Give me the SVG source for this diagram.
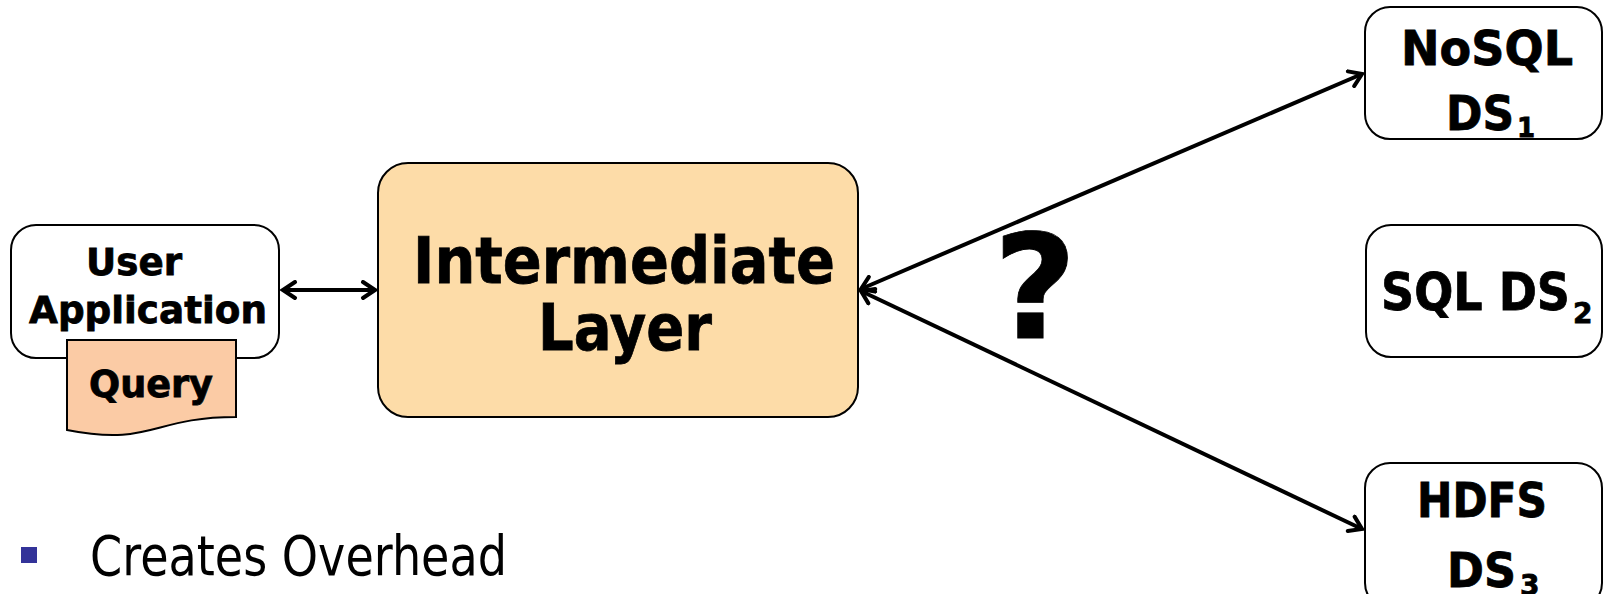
<svg xmlns="http://www.w3.org/2000/svg" width="1604" height="594" viewBox="0 0 1604 594">
  <style>
    .box { fill: #ffffff; stroke: #000000; stroke-width: 2; }
    .layer { fill: #FDDCA8; stroke: #000000; stroke-width: 2; }
    .doc { fill: #FBCBA5; stroke: #000000; stroke-width: 2; }
    .lbl { font-family: "DejaVu Sans", Verdana, sans-serif; font-weight: bold; fill: #000000; stroke: #000000; stroke-width: 0.8; }
    .link { fill: none; stroke: #000000; stroke-width: 4; }
    .plain { font-family: "DejaVu Sans", Tahoma, sans-serif; fill: #000000; }
  </style>
  <defs>
    <marker id="vhead" viewBox="0 0 20 20" refX="17" refY="10" markerWidth="20" markerHeight="20" markerUnits="userSpaceOnUse" orient="auto-start-reverse">
      <path d="M5,2 L17,10 L5,18" fill="none" stroke="#000000" stroke-width="4" stroke-linecap="round" stroke-linejoin="miter"/>
    </marker>
  </defs>

  <!-- connectors -->
  <g id="connectors">
    <line class="link" x1="283" y1="290" x2="375" y2="290" marker-start="url(#vhead)" marker-end="url(#vhead)"/>
    <line class="link" x1="861" y1="289" x2="1362" y2="74" marker-start="url(#vhead)" marker-end="url(#vhead)"/>
    <line class="link" x1="861" y1="291" x2="1362" y2="529" marker-start="url(#vhead)" marker-end="url(#vhead)"/>
  </g>

  <!-- client application with its query document -->
  <g id="user-app">
    <rect class="box" x="11" y="225" width="268" height="133" rx="25" ry="25"/>
    <text class="lbl" x="86" y="275" font-size="38" textLength="96" lengthAdjust="spacingAndGlyphs">User</text>
    <text class="lbl" x="29" y="323" font-size="38" textLength="238" lengthAdjust="spacingAndGlyphs">Application</text>
  </g>
  <g id="query">
    <path class="doc" d="M67,340 H236 V417 C151.5,417 151.5,446.8 67,430 Z"/>
    <text class="lbl" x="89" y="397" font-size="37" textLength="124" lengthAdjust="spacingAndGlyphs">Query</text>
  </g>

  <!-- middleware -->
  <g id="intermediate-layer">
    <rect class="layer" x="378" y="163" width="480" height="254" rx="30" ry="30"/>
    <text class="lbl" x="413" y="283" font-size="64" textLength="422" lengthAdjust="spacingAndGlyphs">Intermediate</text>
    <text class="lbl" x="538" y="350" font-size="64" textLength="174" lengthAdjust="spacingAndGlyphs">Layer</text>
  </g>

  <g id="question">
    <text class="lbl" x="1035" y="338" font-size="144" text-anchor="middle" stroke-width="6">?</text>
  </g>

  <!-- data stores -->
  <g id="nosql-ds1">
    <rect class="box" x="1365" y="7" width="237" height="132" rx="25" ry="25"/>
    <text class="lbl" x="1401" y="65" font-size="48" textLength="172" lengthAdjust="spacingAndGlyphs">NoSQL</text>
    <text class="lbl" x="1446" y="130" font-size="48" textLength="68" lengthAdjust="spacingAndGlyphs">DS</text>
    <text class="lbl" x="1517" y="137" font-size="26">1</text>
  </g>
  <g id="sql-ds2">
    <rect class="box" x="1366" y="225" width="236" height="132" rx="25" ry="25"/>
    <text class="lbl" x="1381" y="310" font-size="51" textLength="189" lengthAdjust="spacingAndGlyphs">SQL DS</text>
    <text class="lbl" x="1573" y="323" font-size="28">2</text>
  </g>
  <g id="hdfs-ds3">
    <rect class="box" x="1365" y="463" width="237" height="145" rx="25" ry="25"/>
    <text class="lbl" x="1417" y="517" font-size="48" textLength="130" lengthAdjust="spacingAndGlyphs">HDFS</text>
    <text class="lbl" x="1447" y="587" font-size="48" textLength="69" lengthAdjust="spacingAndGlyphs">DS</text>
    <text class="lbl" x="1520" y="595" font-size="28">3</text>
  </g>

  <!-- bullet note -->
  <g id="note">
    <rect x="21" y="547" width="16" height="16" fill="#333399"/>
    <text class="plain" x="90" y="575" font-size="56" textLength="417" lengthAdjust="spacingAndGlyphs">Creates Overhead</text>
  </g>
</svg>
